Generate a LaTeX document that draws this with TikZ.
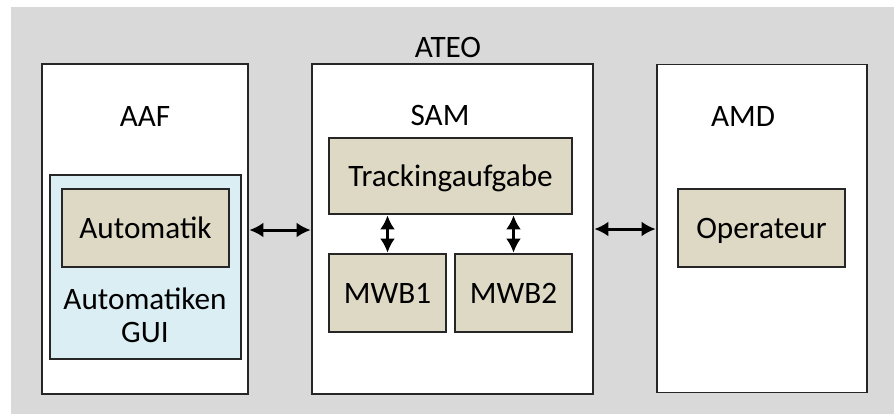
\documentclass[tikz,border=0pt]{standalone}
\usepackage{fontspec}
\setmainfont{Carlito}
\usetikzlibrary{arrows.meta}
\definecolor{bggray}{HTML}{D9D9D9}
\definecolor{tanfill}{HTML}{DDD9C4}
\definecolor{bluefill}{HTML}{DAEEF3}
\definecolor{edge}{HTML}{262626}
\tikzset{
  panel/.style={draw=edge, line width=0.75pt, fill=white, inner sep=0pt},
  tanbox/.style={draw=edge, line width=0.75pt, fill=tanfill, inner sep=0pt, text height=10pt, text depth=0pt, font=\fontsize{15.6}{18.7}\selectfont},
  bluebox/.style={draw=edge, line width=0.75pt, fill=bluefill, inner sep=0pt},
  label/.style={font=\fontsize{15.6}{18.7}\selectfont, inner sep=0pt, align=center},
  link/.style={line width=1.5pt, {Latex[length=7pt,width=7.5pt]}-{Latex[length=7pt,width=7.5pt]}, shorten <=0.3pt, shorten >=0.3pt}
}
\begin{document}
\begin{tikzpicture}[x=0.5pt,y=-0.5pt]
\useasboundingbox (0,0) rectangle (894,414);
\fill[bggray] (11,7) rectangle (894,414);
\node[label] (ateo) at (448,47) {ATEO};
% AAF
\node[panel, minimum width=103pt, minimum height=165pt] (aaf) at (145,229) {};
\node[label] (aaft) at (145,116) {AAF};
\node[bluebox, minimum width=95.5pt, minimum height=92pt] (gui) at (145.5,267) {};
\node[tanbox, minimum width=83.5pt, minimum height=39pt] (auto) at (145.5,228) {Automatik};
\node[label, text depth=0pt] (guit) at (145,315) {Automatiken\\[-2pt]GUI};
% SAM
\node[panel, minimum width=140.5pt, minimum height=165pt] (sam) at (452.5,229) {};
\node[label] (samt) at (440,115) {SAM};
\node[tanbox, minimum width=121.5pt, minimum height=38pt] (track) at (450.5,176) {Trackingaufgabe};
\node[tanbox, minimum width=58.5pt, minimum height=39pt] (mwb1) at (387.5,293) {MWB1};
\node[tanbox, minimum width=58.5pt, minimum height=39pt] (mwb2) at (513.5,293) {MWB2};
% AMD
\node[panel, minimum width=105pt, minimum height=164pt] (amd) at (762,228.5) {};
\node[label] (amdt) at (743,116) {AMD};
\node[tanbox, minimum width=83.5pt, minimum height=39pt] (oper) at (761.5,228) {Operateur};
% connectors
\draw[link] (aaf.east |- 0,230) -- (sam.west |- 0,230);
\draw[link] (sam.east |- 0,229) -- (amd.west |- 0,229);
\draw[link] (track.south -| mwb1.north) -- (mwb1.north);
\draw[link] (track.south -| mwb2.north) -- (mwb2.north);
\end{tikzpicture}
\end{document}
